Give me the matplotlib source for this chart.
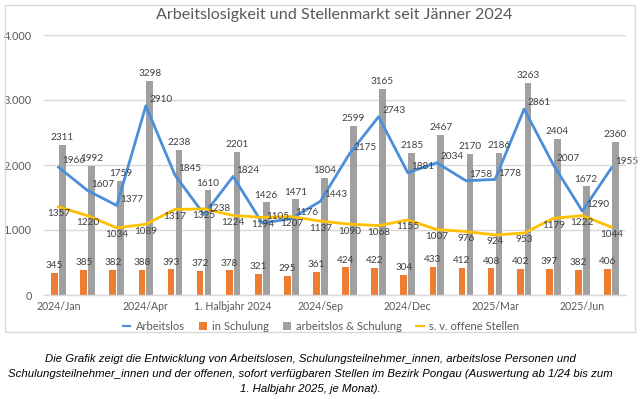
import matplotlib
matplotlib.use("Agg")
import matplotlib.pyplot as plt
from matplotlib.patches import Rectangle
from matplotlib.lines import Line2D
from matplotlib.patches import Patch
import numpy as np

plt.rcParams['font.family'] = ['Lato', 'DejaVu Sans']

categories = ["2024/Jan", "2024/Feb", "2024/Mar", "2024/Apr", "2024/May", "2024/Jun",
              "1. Halbjahr 2024", "2024/Jul", "2024/Aug", "2024/Sep", "2024/Oct", "2024/Nov",
              "2024/Dec", "2025/Jan", "2025/Feb", "2025/Mar", "2025/Apr", "2025/May",
              "2025/Jun", "1. Halbjahr 2025"]
arbeitslos = [1966, 1607, 1377, 2910, 1845, 1238, 1824, 1105, 1176, 1443, 2175, 2743,
              1881, 2034, 1758, 1778, 2861, 2007, 1290, 1955]
in_schulung = [345, 385, 382, 388, 393, 372, 378, 321, 295, 361, 424, 422,
               304, 433, 412, 408, 402, 397, 382, 406]
arbeitslos_schulung = [2311, 1992, 1759, 3298, 2238, 1610, 2201, 1426, 1471, 1804, 2599, 3165,
                       2185, 2467, 2170, 2186, 3263, 2404, 1672, 2360]
offene_stellen = [1357, 1220, 1034, 1089, 1317, 1325, 1224, 1194, 1207, 1137, 1090, 1068,
                  1155, 1007, 976, 924, 953, 1179, 1222, 1044]
tick_idx = [0, 3, 6, 9, 12, 15, 18]
ytick_vals = [0, 1000, 2000, 3000, 4000]
ytick_labels = ["0", "1.000", "2.000", "3.000", "4.000"]

title = "Arbeitslosigkeit und Stellenmarkt seit Jänner 2024"
caption = ("Die Grafik zeigt die Entwicklung von Arbeitslosen, Schulungsteilnehmer_innen, arbeitslose Personen und\n"
           "Schulungsteilnehmer_innen und der offenen, sofort verfügbaren Stellen im Bezirk Pongau (Auswertung ab 1/24 bis zum\n"
           "1. Halbjahr 2025, je Monat).")

BLUE = "#4A8FDA"
ORANGE = "#ED7D31"
GRAY = "#A0A0A0"
YELLOW = "#FFC000"
TXT = "#404040"
AX = "#595959"

W, H = 640, 399
fig = plt.figure(figsize=(6.4, 3.99), dpi=100)
fig.patch.set_facecolor("white")

# chart border
fig.patches.append(Rectangle((5 / W, 1 - 332 / H), 630 / W, 327 / H, transform=fig.transFigure,
                             fill=False, edgecolor="#D9D9D9", linewidth=1.0))

ax = fig.add_axes([44 / W, 1 - 295 / H, 582 / W, 260 / H])
x = np.arange(len(categories))
bw = 0.23
off = 0.135
ax.bar(x - off, in_schulung, bw, color=ORANGE, zorder=2)
ax.bar(x + off, arbeitslos_schulung, bw, color=GRAY, zorder=2)
ax.plot(x, arbeitslos, color=BLUE, lw=2.0, zorder=3, solid_joinstyle="round")
ax.plot(x, offene_stellen, color=YELLOW, lw=2.0, zorder=3, solid_joinstyle="round")

fs = 7.2
for i in range(len(x)):
    ax.annotate(str(arbeitslos_schulung[i]), (x[i] + off, arbeitslos_schulung[i]),
                xytext=(0, 2), textcoords="offset points", ha="center", va="bottom",
                fontsize=fs, color=TXT, zorder=5)
    ax.annotate(str(in_schulung[i]), (x[i] - off, in_schulung[i]),
                xytext=(0, 2), textcoords="offset points", ha="center", va="bottom",
                fontsize=fs, color=TXT, zorder=5)
    ax.annotate(str(arbeitslos[i]), (x[i], arbeitslos[i]),
                xytext=(2.5, 4.5), textcoords="offset points", ha="left", va="center",
                fontsize=fs, color=TXT, zorder=5)
    ax.annotate(str(offene_stellen[i]), (x[i], offene_stellen[i]),
                xytext=(0, -5), textcoords="offset points", ha="center", va="center",
                fontsize=fs, color=TXT, zorder=5)

ax.set_xlim(-0.5, len(categories) - 0.5)
ax.set_ylim(0, 4000)
ax.set_yticks(ytick_vals)
ax.set_yticklabels(ytick_labels, fontsize=7.8, color=AX)
ax.set_xticks([x[i] for i in tick_idx])
ax.set_xticklabels([categories[i] for i in tick_idx], fontsize=7.6, color=AX)
ax.tick_params(axis="both", length=0)
ax.tick_params(axis="y", pad=9)
ax.tick_params(axis="x", pad=4)
ax.grid(axis="y", color="#D9D9D9", lw=1.0, zorder=0)
ax.set_axisbelow(True)
for s in ["top", "right", "left"]:
    ax.spines[s].set_visible(False)
ax.spines["bottom"].set_color("#D9D9D9")
ax.spines["bottom"].set_linewidth(1.0)

fig.text(334 / W, 1 - 15 / H, title, ha="center", va="center", fontsize=11.6, color=AX)

handles = [Line2D([0], [0], color=BLUE, lw=1.5),
           Patch(facecolor=ORANGE),
           Patch(facecolor=GRAY),
           Line2D([0], [0], color=YELLOW, lw=1.5)]
labels = ["Arbeitslos", "in Schulung", "arbeitslos & Schulung", "s. v. offene Stellen"]
leg = fig.legend(handles, labels, loc="center", bbox_to_anchor=(321 / W, 1 - 326 / H), ncol=4,
                 frameon=False, fontsize=8, handlelength=0.7, handleheight=0.7,
                 columnspacing=1.25, handletextpad=0.5)
for t in leg.get_texts():
    t.set_color(AX)

fig.text(310 / W, 1 - 374 / H, caption, ha="center", va="center", fontsize=8.2,
         style="italic", family=["Liberation Sans", "DejaVu Sans"], color="#000000",
         linespacing=1.6)

fig.savefig("out.png", dpi=100)
